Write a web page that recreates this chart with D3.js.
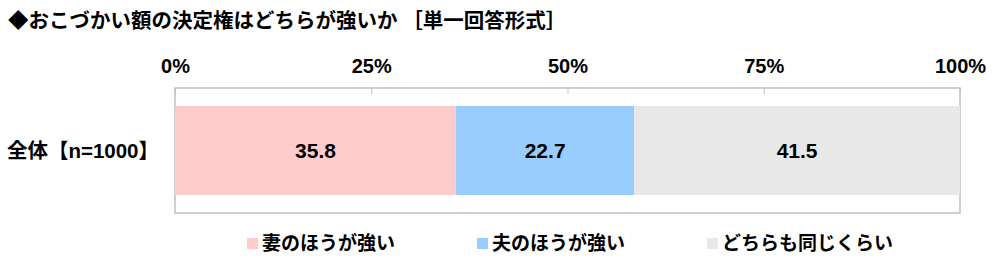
<!DOCTYPE html>
<html lang="ja">
<head>
    <meta charset="UTF-8">
    <title>おこづかい額の決定権</title>
    <script src="https://d3js.org/d3.v7.min.js"></script>
    <style>
        body { margin: 0; background: #fff; }
        text { font-family: "Liberation Sans", "Noto Sans CJK JP", sans-serif; font-weight: bold; fill: #000; }
    </style>
</head>
<body>
<div id="my_dataviz"></div>
<script>
    // data
    var categories = ["全体【n=1000】"];
    var seriesNames = ["妻のほうが強い", "夫のほうが強い", "どちらも同じくらい"];
    var seriesColors = ["#ffcccc", "#99ccff", "#e8e8e8"];
    var values = [[35.8, 22.7, 41.5]];
    var tickValues = [0, 25, 50, 75, 100];

    var W = 1000, H = 264;
    var margin = {top: 88, left: 175};
    var width = 960 - margin.left,
        height = 213 - margin.top;

    var svg = d3.select("#my_dataviz")
        .append("svg")
        .attr("width", W)
        .attr("height", H);

    // title
    svg.append("text")
        .attr("x", 8)
        .attr("y", 28)
        .style("font-size", "20.5px")
        .style("font-family", "'Noto Sans CJK JP', sans-serif")
        .text("◆おこづかい額の決定権はどちらが強いか ［単一回答形式］");

    var g = svg.append("g")
        .attr("transform", "translate(" + margin.left + "," + margin.top + ")");

    var x = d3.scaleLinear().domain([0, 100]).range([0, width]);
    var y = d3.scaleBand().domain(categories).range([0, height]).paddingInner(0).paddingOuter(0.202);

    // frame
    g.append("rect")
        .attr("x", 0).attr("y", 0)
        .attr("width", width).attr("height", height)
        .attr("fill", "none")
        .attr("stroke", "#bfbfbf")
        .attr("stroke-width", 1.5);

    // top axis
    var axis = g.append("g")
        .call(d3.axisTop(x).tickValues(tickValues).tickFormat(function(d) { return d + "%"; }).tickSize(-6).tickPadding(15));
    axis.select(".domain").remove();
    axis.selectAll("line").attr("stroke", "#bfbfbf");
    axis.selectAll("text").style("font-size", "20px").attr("dy", "0");

    // stacked bars
    var rows = categories.map(function(c, i) {
        var acc = 0;
        return values[i].map(function(v, j) {
            var seg = {cat: c, start: acc, value: v, color: seriesColors[j]};
            acc += v;
            return seg;
        });
    });

    var row = g.selectAll(".row").data(rows).enter().append("g").attr("class", "row");
    row.selectAll("rect")
        .data(function(d) { return d; })
        .enter().append("rect")
        .attr("x", function(d) { return x(d.start); })
        .attr("y", function(d) { return y(d.cat); })
        .attr("width", function(d) { return x(d.start + d.value) - x(d.start); })
        .attr("height", y.bandwidth())
        .attr("fill", function(d) { return d.color; });

    row.selectAll(".lbl")
        .data(function(d) { return d; })
        .enter().append("text")
        .attr("class", "lbl")
        .attr("x", function(d) { return x(d.start + d.value / 2); })
        .attr("y", function(d) { return y(d.cat) + y.bandwidth() / 2; })
        .attr("text-anchor", "middle")
        .attr("dy", "0.38em")
        .style("font-size", "21px")
        .text(function(d) { return d.value.toFixed(1); });

    // category labels
    g.selectAll(".cat")
        .data(categories)
        .enter().append("text")
        .attr("class", "cat")
        .attr("x", -16)
        .attr("y", function(d) { return y(d) + y.bandwidth() / 2; })
        .attr("text-anchor", "end")
        .attr("dy", "0.38em")
        .style("font-size", "20.5px")
        .text(function(d) { return d; });

    // legend
    var legendX = [247, 477, 707];
    var legend = svg.selectAll(".legend")
        .data(seriesNames)
        .enter().append("g")
        .attr("class", "legend")
        .attr("transform", function(d, i) { return "translate(" + legendX[i] + ",243)"; });
    legend.append("rect")
        .attr("x", 0).attr("y", -5)
        .attr("width", 11).attr("height", 11)
        .attr("fill", function(d, i) { return seriesColors[i]; });
    legend.append("text")
        .attr("x", 15)
        .attr("dy", "0.36em")
        .style("font-size", "19px")
        .style("font-family", "'Noto Sans CJK JP', sans-serif")
        .text(function(d) { return d; });
</script>
</body>
</html>
